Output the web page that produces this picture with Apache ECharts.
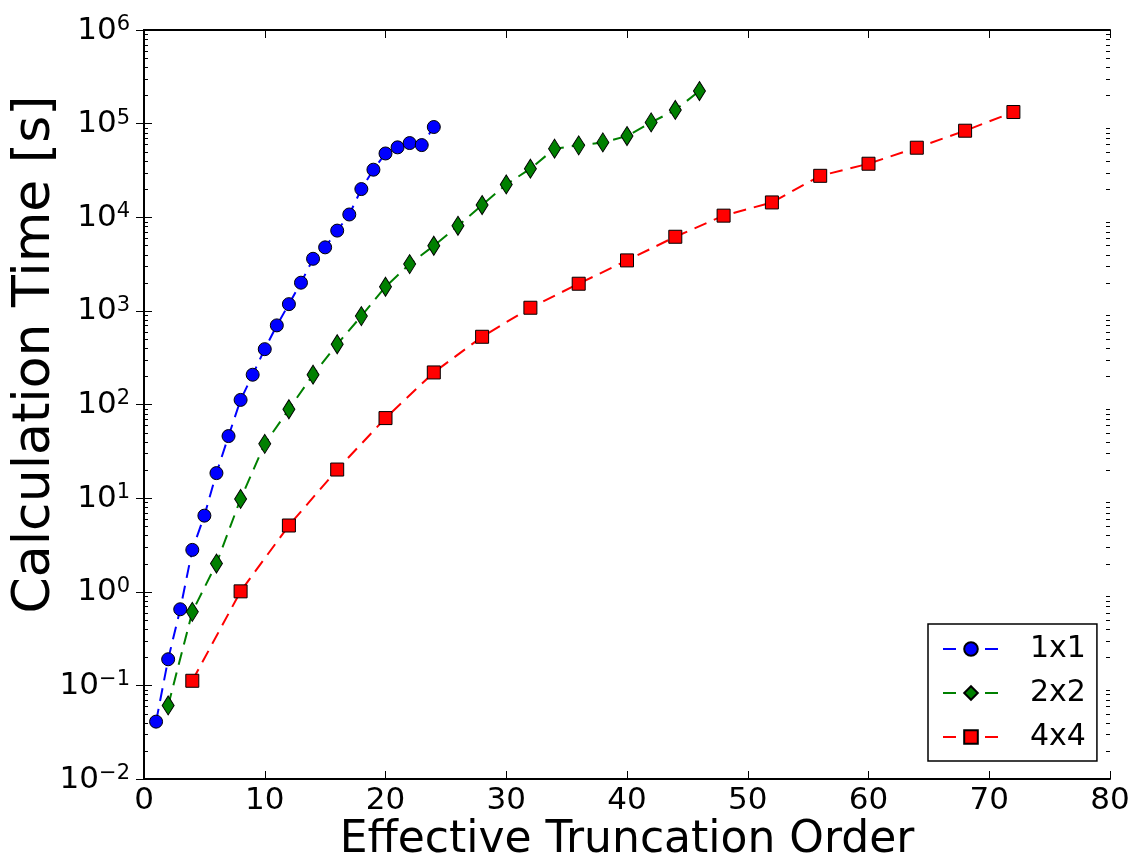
<!DOCTYPE html>
<html>
<head>
    <meta charset="utf-8">
    <title>Calculation Time vs Effective Truncation Order</title>
    <script src="https://cdn.jsdelivr.net/npm/echarts@6.0.0/dist/echarts.min.js"></script>
    <style>
        html, body { margin: 0; padding: 0; background: #fff; }
        #main { width: 1137px; height: 863px; }
    </style>
</head>
<body>
    <div id="main"></div>
    <script>
        // values
        const orders1x1 = [1, 2, 3, 4, 5, 6, 7, 8, 9, 10, 11, 12, 13, 14, 15, 16, 17, 18, 19, 20, 21, 22, 23, 24];
        const time1x1 = [0.041, 0.19, 0.65, 2.8, 6.5, 18.5, 46, 112, 208, 390, 700, 1180, 2000, 3600,
            4770, 7200, 10700, 20000, 32200, 48000, 55800, 62000, 59000, 92000];

        const orders2x2 = [2, 4, 6, 8, 10, 12, 14, 16, 18, 20, 22, 24, 26, 28, 30, 32, 34, 36, 38, 40, 42, 44, 46];
        const time2x2 = [0.061, 0.61, 2.0, 9.8, 38, 89, 208, 440, 880, 1810, 3160, 4960, 8100, 13500,
            22400, 33000, 54000, 58600, 63000, 73700, 103000, 140000, 223000];

        const orders4x4 = [4, 8, 12, 16, 20, 24, 28, 32, 36, 40, 44, 48, 52, 56, 60, 64, 68, 72];
        const time4x4 = [0.112, 1.01, 5.1, 20.2, 71.6, 220, 529, 1080, 1950, 3460, 6190, 10400, 14400,
            27700, 37300, 55300, 84000, 133000];

        const seriesNames = ['1x1', '2x2', '4x4'];

        const FONT = 'DejaVu Sans';

        // log minor ticks (2..9 x 10^k), matplotlib style
        const minorTicks = [];
        for (let k = -2; k < 6; k++) {
            for (let m = 2; m <= 9; m++) minorTicks.push([0, m * Math.pow(10, k)]);
        }

        const pair = (xs, ys) => xs.map((x, i) => [x, ys[i]]);

        const powLabel = function (value) {
            const e = Math.round(Math.log10(value));
            const txt = e < 0 ? '\u2212' + Math.abs(e) : String(e);
            return '{b|10}{e|' + txt + '}';
        };

        const chart = echarts.init(document.getElementById('main'));

        const lineSeries = function (name, data, color, symbol, size) {
            return {
                name: name,
                type: 'line',
                data: data,
                symbol: symbol,
                symbolSize: size,
                showAllSymbol: true,
                lineStyle: { color: color, width: 2, type: [13, 8] },
                itemStyle: { color: color, borderColor: '#000', borderWidth: 1 },
                emphasis: { disabled: true },
                z: 3
            };
        };

        const tickStyle = { inside: true, length: 8, lineStyle: { color: '#000', width: 1 } };

        const option = {
            backgroundColor: '#fff',
            animation: false,
            grid: { left: 144, right: 27, top: 30, bottom: 84, outerBoundsMode: 'none', containLabel: false },
            legend: {
                orient: 'vertical',
                left: 928,
                top: 624,
                data: seriesNames,
                padding: [9, 11, 8, 14],
                itemGap: 12,
                itemWidth: 56,
                itemHeight: 17,
                borderColor: '#000',
                borderWidth: 1.5,
                borderRadius: 0,
                textStyle: { fontFamily: FONT, fontSize: 30, color: '#000', lineHeight: 32, padding: [0, 0, 0, 26] }
            },
            xAxis: [{
                type: 'value',
                min: 0,
                max: 80,
                interval: 10,
                name: 'Effective Truncation Order',
                nameLocation: 'middle',
                nameGap: 40,
                nameMoveOverlap: false,
                nameTextStyle: { fontFamily: FONT, fontSize: 44, color: '#000' },
                axisLine: { lineStyle: { color: '#000', width: 2 } },
                axisTick: tickStyle,
                axisLabel: { fontFamily: FONT, fontSize: 31, color: '#000', margin: 6 },
                splitLine: { show: false }
            }, {
                type: 'value',
                position: 'top',
                min: 0,
                max: 80,
                interval: 10,
                axisLine: { lineStyle: { color: '#000', width: 2 } },
                axisTick: tickStyle,
                axisLabel: { show: false },
                splitLine: { show: false }
            }],
            yAxis: [{
                type: 'log',
                logBase: 10,
                min: 0.01,
                max: 1000000,
                interval: 1,
                splitNumber: 8,
                name: 'Calculation Time [s]',
                nameLocation: 'middle',
                nameGap: 83,
                nameMoveOverlap: false,
                nameTextStyle: { fontFamily: FONT, fontSize: 52, color: '#000', padding: [0, 0, 0, 100] },
                axisLine: { lineStyle: { color: '#000', width: 2 } },
                axisTick: tickStyle,
                axisLabel: {
                    fontFamily: FONT,
                    margin: 14,
                    formatter: powLabel,
                    rich: {
                        b: { fontFamily: FONT, fontSize: 31, color: '#000', lineHeight: 32, verticalAlign: 'bottom' },
                        e: { fontFamily: FONT, fontSize: 21, color: '#000', lineHeight: 32, verticalAlign: 'top', padding: [0, 0, 16, 0] }
                    }
                },
                splitLine: { show: false }
            }, {
                type: 'log',
                logBase: 10,
                min: 0.01,
                max: 1000000,
                interval: 1,
                splitNumber: 8,
                position: 'right',
                axisLine: { lineStyle: { color: '#000', width: 2 } },
                axisTick: tickStyle,
                axisLabel: { show: false },
                splitLine: { show: false }
            }],
            series: [
                lineSeries('1x1', pair(orders1x1, time1x1), '#0000ff', 'circle', 13),
                lineSeries('2x2', pair(orders2x2, time2x2), '#008000', 'diamond', [12, 19]),
                lineSeries('4x4', pair(orders4x4, time4x4), '#ff0000', 'rect', 13),
                {
                    // minor ticks on both log edges
                    type: 'custom',
                    silent: true,
                    data: minorTicks,
                    encode: { x: 0, y: 1 },
                    clip: false,
                    z: 1,
                    renderItem: function (params, api) {
                        const v = api.value(1);
                        const l = api.coord([0, v]);
                        const r = api.coord([80, v]);
                        const y = Math.round(l[1]) + 0.5;
                        const st = { stroke: '#000', lineWidth: 1 };
                        return {
                            type: 'group',
                            children: [
                                { type: 'line', shape: { x1: l[0], y1: y, x2: l[0] + 4, y2: y }, style: st },
                                { type: 'line', shape: { x1: r[0] - 4, y1: y, x2: r[0], y2: y }, style: st }
                            ]
                        };
                    }
                }
            ]
        };

        chart.setOption(option);
    </script>
</body>
</html>
